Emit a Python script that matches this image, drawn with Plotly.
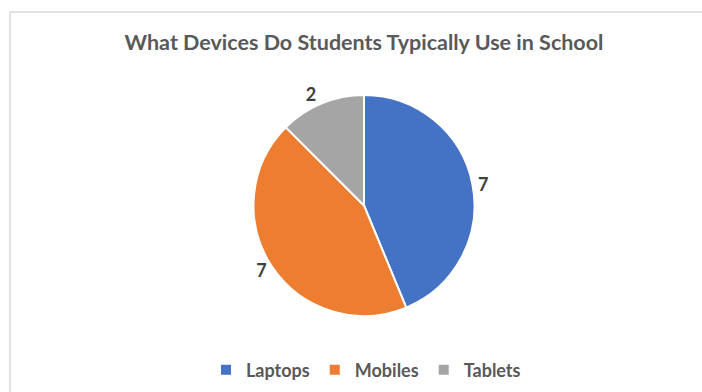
import plotly.graph_objects as go

categories = ["Laptops", "Mobiles", "Tablets"]
values = [7, 7, 2]
colors = ["#4472C4", "#ED7D31", "#A5A5A5"]

W, H = 702, 392
cx, cy, r = 364, 205.5, 110.5

fig = go.Figure(go.Pie(
    labels=["<b>" + c + "</b>" for c in categories],
    values=values,
    sort=False,
    direction="clockwise",
    rotation=0,
    marker=dict(colors=colors, line=dict(color="white", width=2)),
    textinfo="value",
    textposition="outside",
    outsidetextfont=dict(family="Lato", size=18, color="#404040"),
    texttemplate="<b>%{value}</b>",
    domain=dict(x=[(cx - r) / W, (cx + r) / W], y=[1 - (cy + r) / H, 1 - (cy - r) / H]),
    hoverinfo="label+value",
))

fig.update_layout(
    width=W, height=H,
    margin=dict(l=0, r=0, t=0, b=0),
    paper_bgcolor="white",
    title=dict(text="<b>What Devices Do Students Typically Use in School</b>",
               x=364 / W, xanchor="center", y=1 - 42 / H, yanchor="middle",
               font=dict(family="Lato", size=21.5, color="#595959")),
    legend=dict(orientation="h", x=366 / W, xanchor="center", y=1 - 370 / H, yanchor="middle",
                font=dict(family="Lato", size=18, color="#595959"),
                itemwidth=30, traceorder="normal"),
    shapes=[dict(type="rect", xref="paper", yref="paper",
                 x0=10 / W, x1=1.02, y0=-0.02, y1=1 - 12 / H,
                 line=dict(color="#D9D9D9", width=1.5), fillcolor="rgba(0,0,0,0)", layer="below")],
)

fig.write_html("out.html")
